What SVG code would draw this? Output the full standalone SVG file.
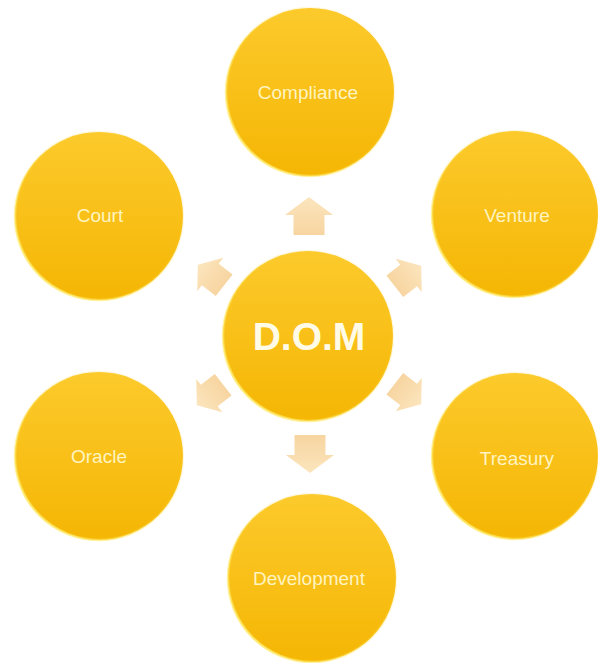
<svg xmlns="http://www.w3.org/2000/svg" width="598" height="663" viewBox="0 0 598 663">
<defs>
<linearGradient id="gold" x1="0" y1="0" x2="0" y2="1">
<stop offset="0" stop-color="#fcca2c"/>
<stop offset="1" stop-color="#f5b604"/>
</linearGradient>
<linearGradient id="rim" x1="1" y1="0" x2="0" y2="1">
<stop offset="0" stop-color="#f7c21a" stop-opacity="0"/>
<stop offset="0.55" stop-color="#ffe24a" stop-opacity="0.3"/>
<stop offset="1" stop-color="#fff07a"/>
</linearGradient>
<linearGradient id="peach" x1="0" y1="0" x2="0" y2="1">
<stop offset="0" stop-color="#fbe2b6"/>
<stop offset="1" stop-color="#f6d096"/>
</linearGradient>
<path id="arr" d="M0,-19 L24,-1 L15.5,-1 L15.5,19 L-15.5,19 L-15.5,-1 L-24,-1 Z"/>
</defs>
<style>
.c{fill:url(#gold);stroke:url(#rim);stroke-width:2.5}
.t{font-family:"Liberation Sans",Arial,sans-serif;font-size:19px;fill:#fff4c0;text-anchor:middle}
.m{font-family:"Liberation Sans",Arial,sans-serif;font-size:39px;font-weight:bold;fill:#fffbe6;text-anchor:middle}
.a{fill:url(#peach);opacity:0.9}
</style>
<rect width="598" height="663" fill="#ffffff"/>
<g id="connectors">
<use href="#arr" class="a" transform="translate(309,216)"/>
<use href="#arr" class="a" transform="translate(310,454) rotate(180)"/>
<use href="#arr" class="a" transform="translate(211,275) rotate(-52) scale(0.88)"/>
<use href="#arr" class="a" transform="translate(408,276) rotate(52) scale(0.88)"/>
<use href="#arr" class="a" transform="translate(210,395) rotate(-128) scale(0.88)"/>
<use href="#arr" class="a" transform="translate(408,394) rotate(128) scale(0.88)"/>
</g>
<g id="dom"><circle class="c" cx="308" cy="336" r="85"/><text class="m" x="309" y="350">D.O.M</text></g>
<g id="compliance"><circle class="c" cx="310" cy="92" r="84"/><text class="t" x="308" y="99">Compliance</text></g>
<g id="court"><circle class="c" cx="99" cy="216" r="84"/><text class="t" x="100" y="222">Court</text></g>
<g id="venture"><circle class="c" cx="515" cy="214" r="83"/><text class="t" x="517" y="222">Venture</text></g>
<g id="oracle"><circle class="c" cx="99" cy="456" r="84"/><text class="t" x="99" y="463">Oracle</text></g>
<g id="treasury"><circle class="c" cx="515" cy="456" r="83"/><text class="t" x="517" y="465">Treasury</text></g>
<g id="development"><circle class="c" cx="312" cy="578" r="84"/><text class="t" x="309" y="585">Development</text></g>
</svg>
